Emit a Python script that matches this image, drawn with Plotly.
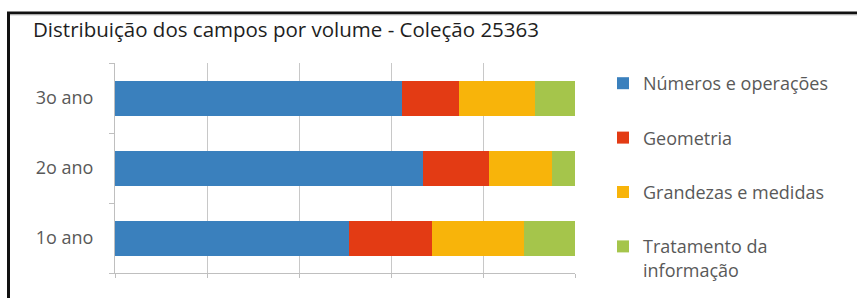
import plotly.graph_objects as go

# ---- data ----
categories = ["1o ano", "2o ano", "3o ano"]
series_names = ["Números e operações", "Geometria", "Grandezas e medidas", "Tratamento da<br>informação"]
numeros = [50.9, 67.0, 62.3]
geometria = [18.1, 14.2, 12.5]
grandezas = [19.9, 13.7, 16.5]
tratamento = [11.1, 5.1, 8.7]
colors = ["#3A80BD", "#E33B14", "#F8B40A", "#A5C54B"]
title_text = "Distribuição dos campos por volume - Coleção 25363"

W, H = 857, 298
L, R, T, B = 115, 575, 63, 273  # plot area in pixels


def px(x):
    return (x - L) / (R - L)


def py(y):
    return (B - y) / (B - T)


fig = go.Figure()
for i, (name, vals) in enumerate(zip(series_names, [numeros, geometria, grandezas, tratamento])):
    fig.add_trace(go.Bar(
        y=categories, x=vals, name=name, orientation="h",
        marker=dict(color=colors[i], line=dict(width=0)),
        legendgroup=f"g{i}",
    ))

font = "'Open Sans', Lato, sans-serif"
fig.update_layout(
    width=W, height=H,
    margin=dict(l=L, r=W - R, t=T, b=H - B, pad=0, autoexpand=False),
    barmode="stack", bargap=0.5,
    plot_bgcolor="white", paper_bgcolor="white",
    font=dict(family=font, size=18, color="#595959"),
    title=dict(text=title_text, xref="container", yref="container",
               x=33 / W, xanchor="left", y=1 - 30 / H, yanchor="middle",
               font=dict(family=font, size=20.5, color="#1e1e1e")),
    xaxis=dict(range=[0, 100], dtick=20, showticklabels=False, showgrid=True,
               gridcolor="#C8C8C8", gridwidth=1, zeroline=False,
               showline=True, linecolor="#BFBFBF", linewidth=1,
               ticks="outside", ticklen=4, tickcolor="#BFBFBF", fixedrange=True),
    yaxis=dict(showgrid=False, zeroline=False, showline=True, linecolor="#BFBFBF",
               linewidth=1, ticks="outside", tickson="boundaries", ticklen=5,
               tickcolor="#BFBFBF", ticklabelstandoff=17, fixedrange=True,
               tickfont=dict(family=font, size=18, color="#595959")),
    legend=dict(x=px(603), xanchor="left", y=py(65), yanchor="top",
                traceorder="grouped", tracegroupgap=28, valign="top",
                bgcolor="rgba(0,0,0,0)", maxheight=500,
                font=dict(family=font, size=18, color="#595959")),
    shapes=[
        dict(type="path", xref="paper", yref="paper",
             path=f"M {px(8.5)},{py(300)} L {px(8.5)},{py(13)} L {px(860)},{py(13)}",
             line=dict(color="#111111", width=3)),
        dict(type="line", xref="paper", yref="paper",
             x0=px(10), x1=px(860), y0=py(15), y1=py(15),
             line=dict(color="#CCCCCC", width=1)),
    ],
)

fig.write_html("out.html", config={"displayModeBar": False},
               post_script="document.body.style.margin='0px';")
